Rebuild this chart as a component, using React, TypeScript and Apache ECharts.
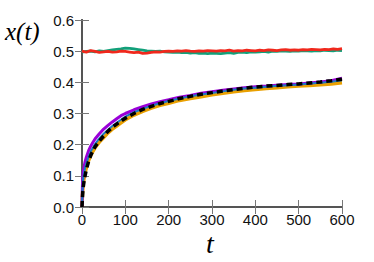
import React, { useEffect, useRef } from "react";
import * as echarts from "echarts";

// Flat series (t every 10)
const tFlat = [
  0, 10, 20, 30, 40, 50, 60, 70, 80, 90, 100, 110, 120, 130, 140, 150, 160, 170, 180, 190, 200,
  210, 220, 230, 240, 250, 260, 270, 280, 290, 300, 310, 320, 330, 340, 350, 360, 370, 380, 390, 400,
  410, 420, 430, 440, 450, 460, 470, 480, 490, 500, 510, 520, 530, 540, 550, 560, 570, 580, 590, 600,
];
const greenVals = [
  0.497, 0.499, 0.5, 0.498, 0.501, 0.499, 0.502, 0.504, 0.506, 0.507, 0.51, 0.509, 0.507, 0.505, 0.503, 0.501, 0.5, 0.499, 0.5, 0.498, 0.497,
  0.496, 0.497, 0.495, 0.496, 0.494, 0.495, 0.493, 0.494, 0.492, 0.494, 0.493, 0.492, 0.494, 0.495, 0.493, 0.496, 0.497, 0.495, 0.498, 0.497,
  0.498, 0.499, 0.497, 0.5, 0.499, 0.501, 0.5, 0.499, 0.501, 0.5, 0.502, 0.501, 0.5, 0.502, 0.501, 0.503, 0.502, 0.501, 0.503, 0.502,
];
const redVals = [
  0.5, 0.497, 0.502, 0.499, 0.496, 0.498, 0.499, 0.497, 0.498, 0.5, 0.499, 0.497, 0.495, 0.497, 0.493, 0.494, 0.496, 0.498, 0.497, 0.499, 0.5,
  0.499, 0.501, 0.5, 0.502, 0.5, 0.499, 0.501, 0.5, 0.502, 0.501, 0.5, 0.502, 0.501, 0.503, 0.5, 0.502, 0.501, 0.503, 0.502, 0.501,
  0.503, 0.502, 0.504, 0.503, 0.502, 0.504, 0.505, 0.503, 0.504, 0.503, 0.505, 0.504, 0.506, 0.505, 0.504, 0.506, 0.505, 0.507, 0.506, 0.508,
];

// Growing curves
const tGrow = [0, 1, 2, 3, 5, 7, 10, 15, 20, 25, 30, 40, 50, 60, 70, 80, 90, 100, 120, 140, 160, 180, 200, 225, 250, 275, 300, 325, 350, 375, 400, 425, 450, 475, 500, 525, 550, 575, 600];
const purpleVals = [0, 0.07, 0.1, 0.115, 0.13, 0.145, 0.16, 0.18, 0.195, 0.207, 0.218, 0.235, 0.25, 0.262, 0.273, 0.283, 0.293, 0.3, 0.312, 0.322, 0.331, 0.338, 0.344, 0.352, 0.358, 0.365, 0.37, 0.375, 0.379, 0.383, 0.386, 0.388, 0.391, 0.393, 0.395, 0.398, 0.401, 0.405, 0.413];
const blackVals = [0, 0.03, 0.05, 0.065, 0.085, 0.1, 0.12, 0.145, 0.165, 0.18, 0.193, 0.212, 0.228, 0.243, 0.256, 0.266, 0.276, 0.285, 0.3, 0.313, 0.323, 0.332, 0.339, 0.348, 0.355, 0.362, 0.367, 0.372, 0.377, 0.381, 0.385, 0.388, 0.39, 0.393, 0.395, 0.398, 0.401, 0.405, 0.41];
const orangeVals = [0, 0.04, 0.06, 0.075, 0.095, 0.11, 0.125, 0.148, 0.165, 0.178, 0.19, 0.208, 0.223, 0.238, 0.25, 0.26, 0.27, 0.28, 0.295, 0.307, 0.317, 0.326, 0.333, 0.342, 0.348, 0.354, 0.36, 0.365, 0.37, 0.374, 0.377, 0.38, 0.383, 0.386, 0.388, 0.39, 0.392, 0.395, 0.399];
const blueVals = [0, 0.05, 0.08, 0.095, 0.11, 0.125, 0.14, 0.16, 0.178, 0.19, 0.202, 0.22, 0.235, 0.248, 0.26, 0.27, 0.28, 0.29, 0.304, 0.315, 0.325, 0.333, 0.34, 0.348, 0.355, 0.361, 0.366, 0.371, 0.376, 0.38, 0.383, 0.386, 0.389, 0.391, 0.393, 0.396, 0.399, 0.402, 0.407];

const pairs = (ts: number[], vs: number[]) => ts.map((t, i) => [t, vs[i]]);

const SANS = "Liberation Sans";
const SERIF = "Liberation Serif";

export default function App() {
  const ref = useRef<HTMLDivElement>(null);
  useEffect(() => {
    if (!ref.current) return;
    const chart = echarts.init(ref.current, undefined, { renderer: "svg" });
    const axisLine = { show: true, lineStyle: { color: "#555", width: 2 } };
    const tick = { show: true, inside: true, length: 7, lineStyle: { color: "#777", width: 1 } };
    const label = { color: "#111", fontSize: 15, fontFamily: SANS };
    const line = (data: number[][], color: string, width: number, z: number, type: any = "solid") => ({
      type: "line",
      data,
      showSymbol: false,
      symbol: "none",
      lineStyle: { color, width, type },
      z,
    });
    chart.setOption({
      animation: false,
      textStyle: { fontFamily: SANS },
      grid: { left: 82, right: 32, top: 20, bottom: 55 },
      xAxis: [
        {
          type: "value", min: 0, max: 600, interval: 100, position: "bottom",
          axisLine, axisTick: tick, splitLine: { show: false },
          axisLabel: { ...label, margin: 5 },
        },
        {
          type: "value", min: 0, max: 600, interval: 100, position: "top",
          axisLine, axisTick: tick, splitLine: { show: false }, axisLabel: { show: false },
        },
      ],
      yAxis: [
        {
          type: "value", min: 0, max: 0.6, interval: 0.1, position: "left",
          axisLine, axisTick: tick, splitLine: { show: false },
          axisLabel: { ...label, margin: 8, formatter: (v: number) => v.toFixed(1) },
        },
        {
          type: "value", min: 0, max: 0.6, interval: 0.1, position: "right",
          axisLine, axisTick: tick, splitLine: { show: false }, axisLabel: { show: false },
        },
      ],
      series: [
        line(pairs(tFlat, greenVals), "#12a07a", 2.8, 2),
        line(pairs(tFlat, redVals), "#f0281c", 2.8, 3),
        line(pairs(tGrow, orangeVals), "#e9a000", 3.5, 4),
        line(pairs(tGrow, purpleVals), "#9a00d8", 3, 5),
        line(pairs(tGrow, blueVals), "#1a78c2", 2, 6),
        line(pairs(tGrow, blackVals), "#000000", 3.5, 7, [6, 4]),
      ],
      graphic: [
        {
          type: "text", left: 5, top: 19,
          style: { text: "x(t)", fontSize: 25, fontStyle: "italic", fontFamily: SERIF, fill: "#000" },
        },
        {
          type: "text", left: 206, top: 229,
          style: { text: "t", fontSize: 28, fontStyle: "italic", fontFamily: SERIF, fill: "#000" },
        },
      ],
    });
    return () => chart.dispose();
  }, []);
  return <div ref={ref} style={{ width: 374, height: 262, position: "absolute", left: 0, top: 0 }} />;
}
